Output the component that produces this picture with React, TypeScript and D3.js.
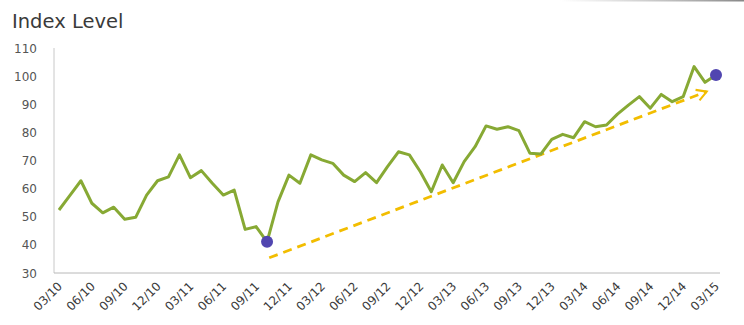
import React from "react";
import * as d3 from "d3";

// Monthly index level, 03/2010 .. 03/2015
const months: string[] = [];
for (let y = 10; y <= 15; y++) {
  for (let m = 1; m <= 12; m++) {
    if ((y === 10 && m < 3) || (y === 15 && m > 3)) continue;
    months.push(`${String(m).padStart(2, "0")}/${y}`);
  }
}

const indexLevel = [
  52.4, 57.6, 62.8, 54.8, 51.4, 53.4, 49.1, 49.8, 57.7, 62.8,
  64.2, 72.0, 63.9, 66.4, 61.9, 57.7, 59.5, 45.5, 46.5, 41.1,
  55.3, 64.8, 61.9, 72.0, 70.2, 69.0, 64.8, 62.5, 65.7, 62.1,
  67.8, 73.1, 72.0, 66.0, 58.9, 68.4, 62.1, 69.6, 74.9, 82.3,
  81.1, 82.0, 80.6, 72.6, 72.3, 77.5, 79.3, 78.1, 83.8, 82.0,
  82.6, 86.5, 89.7, 92.7, 88.6, 93.5, 90.9, 92.7, 103.4, 97.8,
  100.4,
];

// Highlighted points: the trough and the latest level
const highlights = [19, 60];

// Trend arrow endpoints as [month index, level]
const trendStart: [number, number] = [19.2, 35.4];
const trendEnd: [number, number] = [59.15, 94.5];

const yTicks = [30, 40, 50, 60, 70, 80, 90, 100, 110];
const xTickIdx = d3.range(0, 61, 3);

const W = 744;
const H = 325;

export default function App() {
  const x = d3.scaleLinear().domain([0, 60]).range([59, 716]);
  const y = d3.scaleLinear().domain([30, 110]).range([273, 48]);

  const line = d3
    .line<number>()
    .x((_, i) => x(i))
    .y((d) => y(d));

  const font = "'DejaVu Sans', Verdana, sans-serif";

  return (
    <svg
      width={W}
      height={H}
      style={{ position: "absolute", left: 0, top: 0, background: "#fff" }}
    >
      <defs>
        <linearGradient id="topEdge" x1="0" x2="1" y1="0" y2="0">
          <stop offset="0" stopColor="#9a9a9a" stopOpacity={0} />
          <stop offset="1" stopColor="#7a7a7a" stopOpacity={0.9} />
        </linearGradient>
        <marker
          id="arrowHead"
          viewBox="0 0 10 10"
          refX="8"
          refY="5"
          markerWidth="5"
          markerHeight="5"
          orient="auto"
          markerUnits="strokeWidth"
        >
          <path
            d="M1,1 L8,5 L1,9"
            fill="none"
            stroke="#f2bd00"
            strokeWidth={1.5}
          />
        </marker>
      </defs>

      <rect x={560} y={0} width={184} height={1.5} fill="url(#topEdge)" />

      <text
        x={12}
        y={28}
        fontFamily={font}
        fontSize={19.5}
        fill="#3a3a3a"
      >
        Index Level
      </text>

      {/* axes */}
      <line x1={54} x2={54} y1={48} y2={273} stroke="#c8c8c8" strokeWidth={1} />
      <line x1={54} x2={720} y1={273} y2={273} stroke="#b8b8b8" strokeWidth={1} />

      {yTicks.map((t) => (
        <text
          key={t}
          x={37}
          y={y(t) + 4.5}
          textAnchor="end"
          fontFamily={font}
          fontSize={12}
          fill="#555"
        >
          {t}
        </text>
      ))}

      {xTickIdx.map((i) => (
        <text
          key={i}
          transform={`translate(${x(i) + 4},${287}) rotate(-45)`}
          textAnchor="end"
          fontFamily={font}
          fontSize={12}
          fill="#3a3a3a"
        >
          {months[i]}
        </text>
      ))}

      {/* trend arrow */}
      <line
        x1={x(trendStart[0])}
        y1={y(trendStart[1])}
        x2={x(trendEnd[0])}
        y2={y(trendEnd[1])}
        stroke="#f2bd00"
        strokeWidth={2.8}
        strokeDasharray="9,6"
        markerEnd="url(#arrowHead)"
      />

      <path
        d={line(indexLevel) ?? ""}
        fill="none"
        stroke="#87a934"
        strokeWidth={3}
        strokeLinejoin="round"
      />

      {highlights.map((i) => (
        <circle
          key={i}
          cx={x(i)}
          cy={y(indexLevel[i])}
          r={6}
          fill="#5146b0"
        />
      ))}
    </svg>
  );
}
